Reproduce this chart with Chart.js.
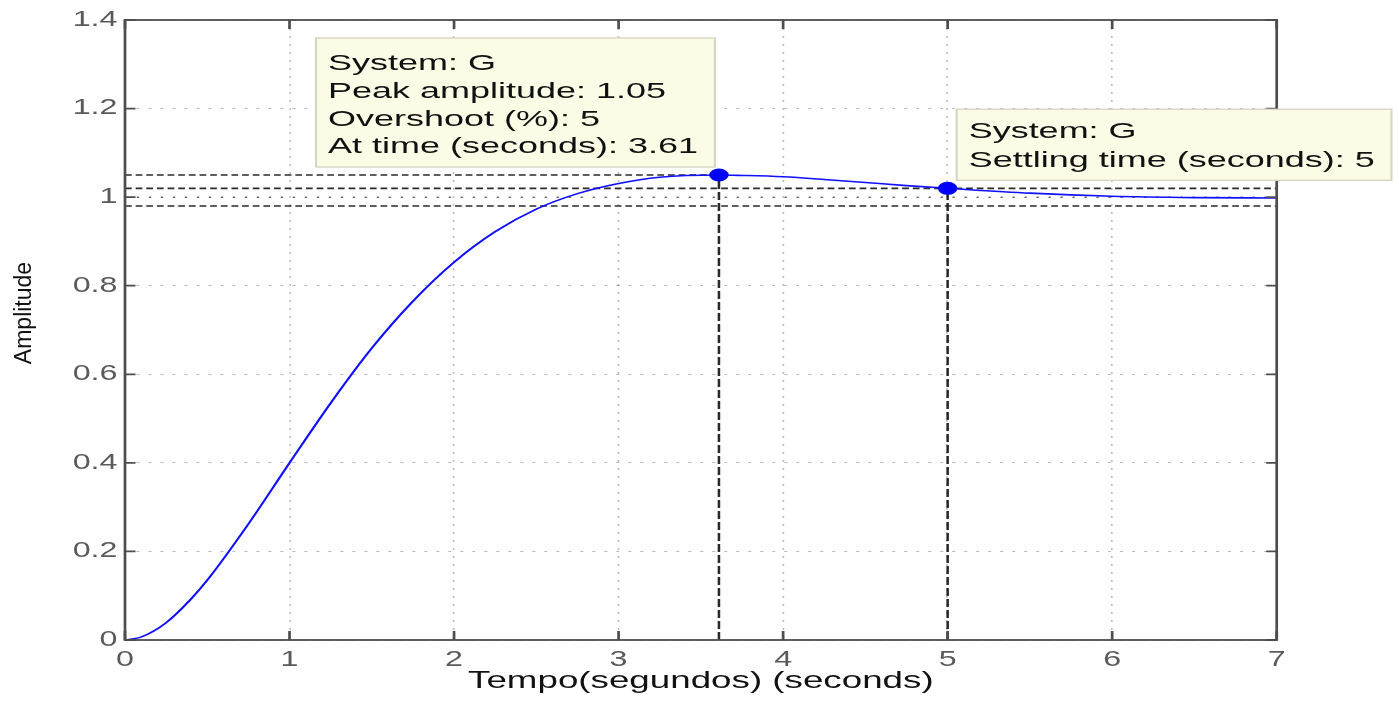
<!DOCTYPE html>
<html>
<head>
<meta charset="utf-8">
<title>Step response</title>
<script src="https://cdn.jsdelivr.net/npm/chart.js@4.4.1/dist/chart.umd.min.js"></script>
<style>
  html, body { margin: 0; padding: 0; background: #fff; }
  #stepChart { display: block; }
</style>
</head>
<body>
<canvas id="stepChart" width="933" height="701" style="width:1399px;height:701px"></canvas>
<script>
// step response
const timeSec   = [0, 0.1, 0.25, 0.4, 0.5, 0.75, 1, 1.25, 1.5, 1.75, 2, 2.25, 2.5, 2.75, 3, 3.25, 3.61, 3.75, 4, 4.25, 4.5, 4.75, 5, 5.5, 6, 6.5, 7];
const amplitude = [0, 0.007, 0.039, 0.092, 0.135, 0.262, 0.400, 0.535, 0.659, 0.765, 0.853, 0.922, 0.973, 1.008, 1.031, 1.045, 1.050, 1.049, 1.046, 1.040, 1.033, 1.026, 1.020, 1.009, 1.002, 0.999, 0.998];

const xTickValues = [0, 1, 2, 3, 4, 5, 6, 7];
const xTickLabels = ['0', '1', '2', '3', '4', '5', '6', '7'];
const yTickValues = [0, 0.2, 0.4, 0.6, 0.8, 1, 1.2, 1.4];
const yTickLabels = ['0', '0.2', '0.4', '0.6', '0.8', '1', '1.2', '1.4'];

// characteristics
const peakTime = [3.61];
const peakAmp = [1.05];
const settleTime = [5];
const settleAmp = [1.02];
const settleBand = [0.98, 1.02];
const finalValue = [1];

const peakText = ['System: G', 'Peak amplitude: 1.05', 'Overshoot (%): 5', 'At time (seconds): 3.61'];
const settleText = ['System: G', 'Settling time (seconds): 5'];
const xTitle = 'Tempo(segundos) (seconds)';
const yTitle = 'Amplitude';

const SX = 1399 / 933; // the figure is stretched sideways
const FONT = '"Liberation Sans", Arial, Helvetica, sans-serif';

const curve = timeSec.map((t, i) => ({ x: t, y: amplitude[i] }));
const markers = peakTime.map((t, i) => ({ x: t, y: peakAmp[i] }))
  .concat(settleTime.map((t, i) => ({ x: t, y: settleAmp[i] })));

const dashH = [4.5, 2.6];
const dashV = [8, 3];

function refLine(points, dash) {
  return {
    type: 'line', data: points, borderColor: '#2a2a2a', borderWidth: 1.7,
    borderDash: dash, pointRadius: 0, fill: false, order: 3
  };
}

const stretch = {
  id: 'stretch',
  beforeDraw(chart) {
    const c = chart.canvas;
    if (c.width !== 1399) { c.width = 1399; c.height = 701; }
    c.style.width = '1399px';
    c.style.height = '701px';
    const ctx = chart.ctx;
    ctx.setTransform(SX, 0, 0, 1, 0, 0);
    ctx.fillStyle = '#fff';
    ctx.fillRect(0, 0, 933, 701);
  }
};

const frame = {
  id: 'frame',
  afterDatasetsDraw(chart) {
    const { ctx, chartArea: a, scales: { x, y } } = chart;
    ctx.save();
    ctx.strokeStyle = '#4d4d4d';
    ctx.lineWidth = 1.8;
    ctx.setLineDash([]);
    ctx.strokeRect(a.left, a.top, a.right - a.left, a.bottom - a.top);
    ctx.beginPath();
    xTickValues.forEach(v => {
      const px = x.getPixelForValue(v);
      ctx.moveTo(px, a.bottom); ctx.lineTo(px, a.bottom - 9);
      ctx.moveTo(px, a.top); ctx.lineTo(px, a.top + 9);
    });
    yTickValues.forEach(v => {
      const py = y.getPixelForValue(v);
      ctx.moveTo(a.left, py); ctx.lineTo(a.left + 7, py);
      ctx.moveTo(a.right, py); ctx.lineTo(a.right - 7, py);
    });
    ctx.stroke();
    ctx.restore();
  }
};

function drawTip(ctx, left, top, w, h, lines, first, step) {
  ctx.fillStyle = '#fcfce6';
  ctx.fillRect(left, top, w, h);
  ctx.strokeStyle = '#d6d6c4';
  ctx.lineWidth = 1.4;
  ctx.strokeRect(left, top, w, h);
  ctx.fillStyle = '#111';
  ctx.font = '24px ' + FONT;
  ctx.textAlign = 'left';
  ctx.textBaseline = 'alphabetic';
  lines.forEach((t, i) => {
    ctx.save();
    ctx.translate(left + 8, top + first + i * step);
    ctx.scale(1, 0.92);
    ctx.fillText(t, 0, 0);
    ctx.restore();
  });
}

const tips = {
  id: 'tips',
  afterDraw(chart) {
    const { ctx, scales: { x, y } } = chart;
    ctx.save();
    const px = x.getPixelForValue(peakTime[0]), py = y.getPixelForValue(peakAmp[0]);
    drawTip(ctx, px - 2.7 - 266, py - 8 - 129, 266, 129, peakText, 32, 27.8);
    const sx = x.getPixelForValue(settleTime[0]), sy = y.getPixelForValue(settleAmp[0]);
    drawTip(ctx, sx + 6, sy - 8 - 71, 290, 71, settleText, 29, 29);

    // y axis title, drawn in screen pixels so it is not stretched
    ctx.setTransform(1, 0, 0, 1, 0, 0);
    ctx.translate(31, 313);
    ctx.rotate(-Math.PI / 2);
    ctx.font = '23px ' + FONT;
    ctx.fillStyle = '#111';
    ctx.textAlign = 'center';
    ctx.textBaseline = 'alphabetic';
    ctx.fillText(yTitle, 0, 0);
    ctx.restore();
  }
};

new Chart(document.getElementById('stepChart'), {
  type: 'line',
  data: {
    datasets: [
      {
        data: markers, showLine: false, pointRadius: 6.5, pointBackgroundColor: '#0000ff',
        pointBorderColor: '#0000ff', pointBorderWidth: 0, order: 0
      },
      {
        data: curve, borderColor: '#1010ff', borderWidth: 1.6, pointRadius: 0,
        cubicInterpolationMode: 'monotone', fill: false, order: 1
      },
      {
        type: 'line', data: [{ x: 0, y: finalValue[0] }, { x: 7, y: finalValue[0] }],
        borderColor: '#666', borderWidth: 1.5, borderDash: [1.3, 6.7], pointRadius: 0, order: 4
      },
      refLine([{ x: 0, y: peakAmp[0] }, { x: peakTime[0], y: peakAmp[0] }], dashH),
      refLine([{ x: peakTime[0], y: 0 }, { x: peakTime[0], y: peakAmp[0] }], dashV),
      refLine([{ x: 0, y: settleBand[1] }, { x: 7, y: settleBand[1] }], dashH),
      refLine([{ x: 0, y: settleBand[0] }, { x: 7, y: settleBand[0] }], dashH),
      refLine([{ x: settleTime[0], y: 0 }, { x: settleTime[0], y: settleAmp[0] }], dashV)
    ]
  },
  options: {
    responsive: false,
    devicePixelRatio: 1,
    animation: false,
    events: [],
    layout: { padding: { top: 20, right: 933 - 1276.7 / SX, bottom: 0, left: 0 } },
    plugins: { legend: { display: false }, tooltip: { enabled: false } },
    scales: {
      x: {
        type: 'linear', min: 0, max: 7,
        afterBuildTicks(scale) { scale.ticks = xTickValues.map(v => ({ value: v })); },
        afterFit(scale) { scale.height = 61; },
        ticks: {
          padding: 7, color: '#5a5a5a', font: { family: FONT, size: 21.5 },
          callback: (v, i) => xTickLabels[i]
        },
        grid: { color: 'rgba(0,0,0,0.28)', lineWidth: 1, drawTicks: false },
        border: { display: false, dash: [2, 6] },
        title: {
          display: true, text: xTitle, color: '#111',
          font: { family: FONT, size: 24.5 }, padding: { top: 0, bottom: 5 }
        }
      },
      y: {
        type: 'linear', min: 0, max: 1.4,
        afterBuildTicks(scale) { scale.ticks = yTickValues.map(v => ({ value: v })); },
        afterFit(scale) { scale.width = 125 / SX; },
        ticks: {
          padding: 5, color: '#5a5a5a', font: { family: FONT, size: 21.5 },
          callback: (v, i) => yTickLabels[i]
        },
        grid: { color: 'rgba(0,0,0,0.28)', lineWidth: 1, drawTicks: false },
        border: { display: false, dash: [2, 6] }
      }
    }
  },
  plugins: [stretch, frame, tips]
});
</script>
</body>
</html>
